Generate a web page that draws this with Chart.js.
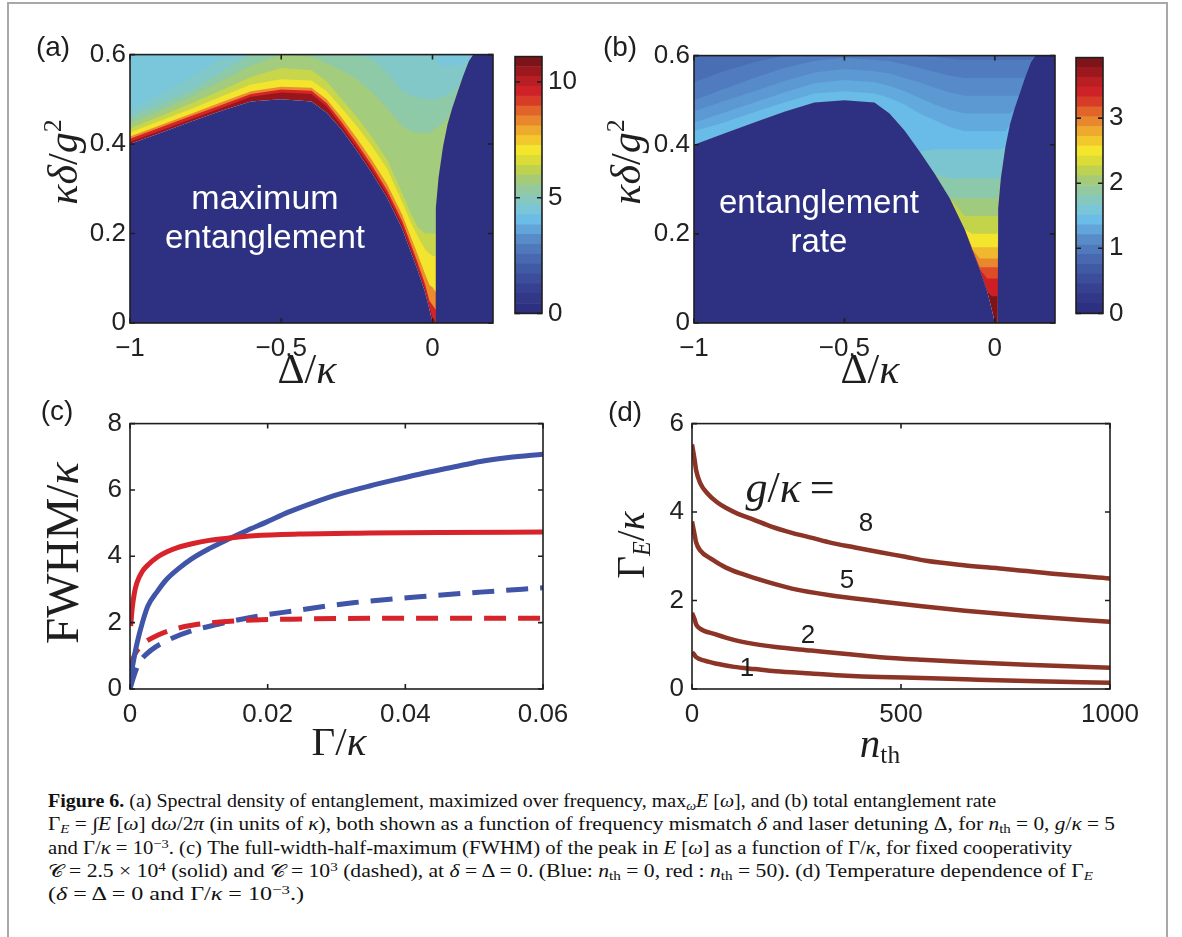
<!DOCTYPE html>
<html>
<head>
<meta charset="utf-8">
<script src="https://cdn.jsdelivr.net/npm/chart.js@4.4.0/dist/chart.umd.min.js"></script>
<style>
  body { margin: 0; background: #fff; width: 1182px; height: 937px; overflow: hidden; position: relative; }
  canvas { position: absolute; }
  .frame { position: absolute; background: #a8a8a8; }
  .t { position: absolute; white-space: nowrap; color: #1e1e1e; line-height: 1; }
  .sans { font-family: "Liberation Sans", Arial, sans-serif; }
  .m { font-family: "Liberation Serif", "DejaVu Serif", serif; }
  .c { transform: translate(-50%, -50%); }
  .r { transform: translate(-50%, -50%) rotate(-90deg); }
  .m sup { font-size: 0.62em; vertical-align: 0.6em; line-height: 0; }
  .m sub { font-size: 0.62em; vertical-align: -0.25em; line-height: 0; }
  .white { color: #fff; }
  .cap { position: absolute; left: 48px; white-space: nowrap; font-family: "Liberation Serif", serif; font-size: 18px; color: #111; transform-origin: 0 0; line-height: 1; }
  .cap sup { font-size: 0.7em; vertical-align: 0.45em; line-height: 0; }
  .cap sub { font-size: 0.7em; vertical-align: -0.2em; line-height: 0; }
</style>
</head>
<body>
<div class="frame" style="left:7px;top:2px;width:1161px;height:2px"></div>
<div class="frame" style="left:7px;top:2px;width:2px;height:935px"></div>
<div class="frame" style="left:1166px;top:2px;width:2px;height:935px"></div>

<canvas id="ca" width="445" height="325" style="left:60px;top:35px"></canvas>
<canvas id="cba" width="78" height="300" style="left:507px;top:35px"></canvas>
<canvas id="cb" width="441" height="324" style="left:624px;top:36px"></canvas>
<canvas id="cbb" width="78" height="299" style="left:1068px;top:36px"></canvas>
<canvas id="cc" width="520" height="326" style="left:60px;top:400px"></canvas>
<canvas id="cd" width="528" height="326" style="left:622px;top:400px"></canvas>

<!-- panel letters -->
<div class="t sans c" style="left:53px;top:47px;font-size:28px">(a)</div>
<div class="t sans c" style="left:620px;top:47px;font-size:28px">(b)</div>
<div class="t sans c" style="left:57px;top:411px;font-size:28px">(c)</div>
<div class="t sans c" style="left:625px;top:412px;font-size:28px">(d)</div>

<!-- labels inside the maps -->
<div class="t sans c white" style="left:265px;top:197px;font-size:34px">maximum</div>
<div class="t sans c white" style="left:265px;top:236px;font-size:33px">entanglement</div>
<div class="t sans c white" style="left:819px;top:201px;font-size:33px">entanglement</div>
<div class="t sans c white" style="left:819px;top:240px;font-size:33px">rate</div>

<!-- axis titles -->
<div class="t m r" style="left:63px;top:162px;font-size:42px"><i>κδ</i>/<i>g</i><sup>2</sup></div>
<div class="t m c" style="left:307px;top:369px;font-size:42px">Δ/<i>κ</i></div>
<div class="t m r" style="left:626px;top:162px;font-size:42px"><i>κδ</i>/<i>g</i><sup>2</sup></div>
<div class="t m c" style="left:870px;top:369px;font-size:42px">Δ/<i>κ</i></div>
<div class="t m r" style="left:62px;top:553px;font-size:47px">FWHM/<i>κ</i></div>
<div class="t m c" style="left:339px;top:741px;font-size:41px">Γ/<i>κ</i></div>
<div class="t m r" style="left:630px;top:545px;font-size:39px">Γ<sub><i>E</i></sub>/<i>κ</i></div>
<div class="t m c" style="left:880px;top:743px;font-size:41px"><i>n</i><sub>th</sub></div>

<!-- curve labels of (d) -->
<div class="t m c" style="left:790px;top:488px;font-size:44px"><i>g</i>/<i>κ</i>&thinsp;=</div>
<div class="t sans c" style="left:866px;top:522px;font-size:26px">8</div>
<div class="t sans c" style="left:847px;top:579px;font-size:26px">5</div>
<div class="t sans c" style="left:808px;top:634px;font-size:26px">2</div>
<div class="t sans c" style="left:747px;top:667px;font-size:26px">1</div>

<!-- caption -->
<div class="cap" data-w="948" style="top:792px"><b>Figure 6.</b> (a) Spectral density of entanglement, maximized over frequency, max<sub><i>ω</i></sub><i>E</i> [<i>ω</i>], and (b) total entanglement rate</div>
<div class="cap" data-w="1067" style="top:815px">Γ<sub><i>E</i></sub> = ∫<i>E</i> [<i>ω</i>] d<i>ω</i>/2<i>π</i> (in units of <i>κ</i>), both shown as a function of frequency mismatch <i>δ</i> and laser detuning Δ, for <i>n</i><sub>th</sub> = 0, <i>g</i>/<i>κ</i> = 5</div>
<div class="cap" data-w="1024" style="top:839px">and Γ/<i>κ</i> = 10<sup>−3</sup>. (c) The full-width-half-maximum (FWHM) of the peak in <i>E</i> [<i>ω</i>] as a function of Γ/<i>κ</i>, for fixed cooperativity</div>
<div class="cap" data-w="1045" style="top:862px">𝒞 = 2.5 × 10<sup>4</sup> (solid) and 𝒞 = 10<sup>3</sup> (dashed), at <i>δ</i> = Δ = 0. (Blue: <i>n</i><sub>th</sub> = 0, red : <i>n</i><sub>th</sub> = 50). (d) Temperature dependence of Γ<sub><i>E</i></sub></div>
<div class="cap" data-w="256" style="top:885px">(<i>δ</i> = Δ = 0 and Γ/<i>κ</i> = 10<sup>−3</sup>.)</div>

<script>
// ---- panels (a) and (b): columns in Δ/κ and the top of the zero (dark) region
const deltaCols = [-1, -0.9, -0.8, -0.7, -0.6, -0.5, -0.4, -0.35, -0.3, -0.25, -0.2, -0.15, -0.1, -0.075, -0.05, -0.025, -0.01, 0, 0.01, 0.011, 0.02, 0.035, 0.05, 0.065, 0.08, 0.1, 0.12, 0.135, 0.2];
const zeroTop = [0.40, 0.425, 0.45, 0.474, 0.495, 0.50, 0.495, 0.47, 0.432, 0.385, 0.335, 0.28, 0.21, 0.165, 0.12, 0.07, 0.03, 0, 0, 0.257, 0.325, 0.395, 0.445, 0.48, 0.51, 0.55, 0.585, 0.6, 0.6];

// (a) lower edge (κδ/g²) of each colour band; null = band starts on the dark region
const aRed    = [.405, .43, .455, .48, .506, .515, .512, .484, .44, .393, .343, .288, .218, .173, .127, .077, .037, .012, .005, null, null, null, null, null, null, null, null, null, null];
const aOrange = [.412, .437, .462, .487, .512, .522, .519, .492, .449, .402, .352, .297, .228, .183, .137, .088, .05, .04, .03, null, null, null, null, null, null, null, null, null, null];
const aYellow = [.417, .442, .467, .493, .518, .528, .526, .5, .459, .413, .364, .31, .242, .198, .155, .11, .085, .08, .07, null, null, null, null, null, null, null, null, null, null];
const aLime   = [.426, .452, .478, .506, .533, .545, .542, .518, .48, .44, .395, .345, .27, .23, .195, .165, .155, .15, .15, null, null, null, null, null, null, null, null, null, null];
const aGreen  = [.435, .462, .49, .52, .55, .57, .565, .54, .5, .46, .415, .365, .29, .25, .215, .2, .2, .2, .2, null, null, null, null, null, null, null, null, null, null];
const aSea    = [.447, .475, .505, .54, .575, .6, .595, .58, .565, .545, .515, .48, .44, .43, .425, .425, .425, .43, .435, .435, .44, .445, .46, null, null, null, null, null, null];
const aTeal   = [.46, .49, .52, .56, .6, .6, .6, .6, .6, .6, .59, .56, .52, .51, .505, .5, .5, .5, .5, .5, .505, .505, .51, .515, .525, null, null, null, null];
const aSky    = [.475, .51, .55, .59, .6, .6, .6, .6, .6, .6, .6, .6, .6, .6, .6, .6, .6, .6, .595, .59, .58, .575, .575, .575, .575, .575, .59, .6, .6];

// (b) lower edge of each colour band
const bRed       = [null, null, null, null, null, null, null, null, null, null, null, null, null, null, null, null, .06, .06, .06, null, null, null, null, null, null, null, null, null, null];
const bRedOrange = [null, null, null, null, null, null, null, null, null, null, null, null, null, null, null, .1, .1, .1, .1, null, null, null, null, null, null, null, null, null, null];
const bOrange    = [null, null, null, null, null, null, null, null, null, null, null, null, null, null, .125, .125, .125, .125, .125, null, null, null, null, null, null, null, null, null, null];
const bAmber     = [null, null, null, null, null, null, null, null, null, null, null, null, null, null, .145, .145, .145, .145, .145, null, null, null, null, null, null, null, null, null, null];
const bYellow    = [null, null, null, null, null, null, null, null, null, null, null, null, null, .17, .17, .17, .17, .17, .17, null, null, null, null, null, null, null, null, null, null];
const bLime      = [null, null, null, null, null, null, null, null, null, null, null, null, null, .2, .2, .2, .2, .2, .2, null, null, null, null, null, null, null, null, null, null];
const bGreen     = [null, null, null, null, null, null, null, null, null, null, null, null, .24, .24, .24, .24, .24, .24, .24, null, null, null, null, null, null, null, null, null, null];
const bSea       = [null, null, null, null, null, null, null, null, null, null, null, null, .28, .28, .28, .28, .28, .28, .28, .28, null, null, null, null, null, null, null, null, null];
const bTeal      = [null, null, null, null, null, null, null, null, null, null, null, .325, .325, .325, .325, .325, .325, .325, .325, .325, null, null, null, null, null, null, null, null, null];
const bLight     = [null, null, null, null, null, null, null, null, null, null, .39, .39, .39, .39, .39, .39, .39, .39, .39, .39, .39, null, null, null, null, null, null, null, null];
const bSky       = [.43, .45, .473, .495, .515, .52, .515, .505, .49, .47, .455, .44, .43, .43, .43, .43, .43, .43, .43, .43, .43, .43, null, null, null, null, null, null, null];
const bBlue1     = [.45, .472, .495, .517, .538, .545, .54, .532, .52, .505, .49, .478, .47, .47, .47, .47, .47, .47, .47, .47, .47, .47, .47, null, null, null, null, null, null];
const bBlue2     = [.475, .498, .52, .543, .562, .57, .565, .56, .55, .54, .528, .517, .51, .51, .51, .51, .51, .51, .51, .51, .51, .51, .51, .51, null, null, null, null, null];
const bBlue3     = [.5, .525, .55, .572, .588, .595, .59, .588, .58, .572, .563, .555, .55, .55, .55, .55, .55, .55, .55, .55, .55, .55, .55, .55, .55, null, null, null, null];
const bBlue4     = [.54, .565, .585, .6, .6, .6, .6, .6, .6, .6, .597, .593, .59, .59, .59, .59, .59, .59, .59, .59, .59, .59, .59, .59, .59, .59, .59, .6, .6];

// colour bars
const cbarMaxA = 11.1;
const cbarMaxB = 3.93;
const cbarTicksA = [0, 5, 10];
const cbarTicksB = [0, 1, 2, 3];

// tick labels
const mapTicksX = [-1, -0.5, 0];
const mapTicksY = [0, 0.2, 0.4, 0.6];
const cTicksX = [0, 0.02, 0.04, 0.06];
const cTicksY = [0, 2, 4, 6, 8];
const dTicksX = [0, 500, 1000];
const dTicksY = [0, 2, 4, 6];

// ---- panel (c): FWHM/κ against Γ/κ
const blueSolidX = [0, 0.0002, 0.0006, 0.001, 0.0018, 0.0026, 0.004, 0.0053, 0.007, 0.009, 0.0115, 0.0144, 0.017, 0.0198, 0.023, 0.0267, 0.0305, 0.0348, 0.039, 0.0428, 0.047, 0.0509, 0.055, 0.06];
const blueSolidY = [0, 0.45, 0.95, 1.36, 2.0, 2.5, 2.95, 3.3, 3.62, 3.93, 4.23, 4.53, 4.78, 5.03, 5.33, 5.62, 5.88, 6.12, 6.33, 6.51, 6.69, 6.86, 6.98, 7.08];
const redSolidX  = [0.0001, 0.0003, 0.0006, 0.001, 0.0018, 0.0026, 0.004, 0.0053, 0.007, 0.009, 0.0115, 0.0144, 0.018, 0.0245, 0.0348, 0.045, 0.06];
const redSolidY  = [1.9, 2.4, 2.85, 3.2, 3.55, 3.74, 3.98, 4.13, 4.27, 4.38, 4.48, 4.55, 4.62, 4.67, 4.7, 4.72, 4.73];
const blueDashX  = [0, 0.0005, 0.0013, 0.003, 0.0054, 0.0089, 0.0128, 0.0173, 0.0236, 0.0324, 0.042, 0.0509, 0.06];
const blueDashY  = [0, 0.35, 0.77, 1.16, 1.46, 1.75, 1.95, 2.15, 2.35, 2.6, 2.78, 2.92, 3.05];
const redDashX   = [0.0001, 0.0005, 0.001, 0.002, 0.004, 0.006, 0.009, 0.013, 0.018, 0.025, 0.035, 0.06];
const redDashY   = [0.6, 0.95, 1.15, 1.38, 1.62, 1.78, 1.92, 2.02, 2.08, 2.11, 2.13, 2.13];

// ---- panel (d): Γ_E/κ against n_th for g/κ = 8, 5, 2, 1
const g8X = [0, 6, 10, 20, 37, 60, 82, 110, 147, 190, 239, 290, 331, 390, 450, 510, 560, 650, 744, 870, 1000];
const g8Y = [5.53, 5.2, 4.94, 4.65, 4.42, 4.22, 4.09, 3.96, 3.83, 3.67, 3.53, 3.41, 3.31, 3.2, 3.09, 2.99, 2.9, 2.8, 2.72, 2.6, 2.5];
const g5X = [0, 6, 10, 20, 46, 80, 120, 180, 239, 330, 450, 550, 653, 800, 1000];
const g5Y = [3.79, 3.5, 3.31, 3.13, 2.94, 2.75, 2.6, 2.42, 2.27, 2.12, 1.98, 1.87, 1.77, 1.65, 1.52];
const g2X = [0, 6, 10, 20, 55, 100, 147, 200, 285, 370, 450, 550, 653, 800, 1000];
const g2Y = [1.72, 1.58, 1.46, 1.36, 1.24, 1.11, 1.02, 0.95, 0.87, 0.79, 0.72, 0.66, 0.61, 0.55, 0.48];
const g1X = [0, 6, 10, 30, 60, 101, 150, 200, 285, 370, 450, 550, 653, 800, 1000];
const g1Y = [0.83, 0.77, 0.72, 0.64, 0.57, 0.5, 0.45, 0.4, 0.35, 0.3, 0.27, 0.25, 0.22, 0.18, 0.14];

// ---- styles
const zeroColour = 'rgb(46,49,130)';
const aColours = ['rgb(150,22,28)', 'rgb(212,36,40)', 'rgb(236,140,45)', 'rgb(243,228,45)', 'rgb(200,214,75)', 'rgb(163,204,125)', 'rgb(142,201,168)', 'rgb(130,200,200)', 'rgb(122,198,218)'];
const bColours = ['rgb(125,20,25)', 'rgb(205,32,38)', 'rgb(222,75,40)', 'rgb(232,135,45)', 'rgb(240,185,45)', 'rgb(243,228,45)', 'rgb(195,212,75)', 'rgb(160,202,125)', 'rgb(140,200,170)', 'rgb(122,197,208)', 'rgb(105,188,232)', 'rgb(98,170,222)', 'rgb(92,153,210)', 'rgb(86,138,200)', 'rgb(80,124,191)', 'rgb(74,110,180)'];
const cmap = ['rgb(45,48,128)', 'rgb(50,55,135)', 'rgb(55,65,145)', 'rgb(60,78,155)', 'rgb(65,90,165)', 'rgb(72,105,175)', 'rgb(80,120,188)', 'rgb(88,140,200)', 'rgb(98,165,218)', 'rgb(108,188,232)', 'rgb(122,197,215)', 'rgb(135,200,190)', 'rgb(148,201,160)', 'rgb(165,203,120)', 'rgb(190,210,80)', 'rgb(220,220,55)', 'rgb(243,230,45)', 'rgb(243,200,45)', 'rgb(238,170,45)', 'rgb(232,135,45)', 'rgb(225,100,42)', 'rgb(215,60,40)', 'rgb(205,35,40)', 'rgb(185,30,35)', 'rgb(155,25,30)', 'rgb(125,20,25)'];
const blue = 'rgb(64,84,168)';
const red = 'rgb(214,36,42)';
const brown = 'rgb(140,52,38)';
const tickFont = { family: '"Liberation Sans", Arial, sans-serif', size: 26 };

const fmt = v => (v < 0 ? '\u2212' : '') + String(Math.abs(v));
const zip = (xs, ys) => xs.map((x, i) => ({ x: x, y: ys[i] }));
const cols = arr => deltaCols.map((x, i) => ({ x: x, y: arr[i] == null ? zeroTop[i] : arr[i] }));

// box round the plot with inward ticks on all four sides (matlab look)
const boxPlugin = {
    id: 'box',
    afterDraw(chart) {
        const ctx = chart.ctx, a = chart.chartArea;
        ctx.save();
        ctx.strokeStyle = '#1e1e1e';
        ctx.lineWidth = 1.6;
        ctx.strokeRect(a.left, a.top, a.right - a.left, a.bottom - a.top);
        ctx.beginPath();
        const x = chart.scales.x, y = chart.scales.y;
        if (x && x.options.display !== false) {
            x.ticks.forEach(t => {
                const p = x.getPixelForValue(t.value);
                ctx.moveTo(p, a.bottom); ctx.lineTo(p, a.bottom - 5);
                ctx.moveTo(p, a.top); ctx.lineTo(p, a.top + 5);
            });
        }
        y.ticks.forEach(t => {
            const p = y.getPixelForValue(t.value);
            ctx.moveTo(a.left, p); ctx.lineTo(a.left + 5, p);
            ctx.moveTo(a.right, p); ctx.lineTo(a.right - 5, p);
        });
        ctx.stroke();
        ctx.restore();
    }
};

function axis(min, max, ticks, size, pad, extra) {
    return Object.assign({
        type: 'linear', min: min, max: max,
        grid: { display: false, drawTicks: false }, border: { display: false },
        afterBuildTicks: s => { s.ticks = ticks.map(v => ({ value: v })); },
        afterFit: s => { if (s.isHorizontal()) s.height = size; else s.width = size; },
        ticks: { font: tickFont, color: '#222', padding: pad, autoSkip: false, maxRotation: 0, callback: v => fmt(v) }
    }, extra || {});
}

const base = {
    responsive: false, animation: false, events: [],
    plugins: { legend: { display: false }, tooltip: { enabled: false } }
};

// heat map as stacked filled contours; dataset 0 is drawn last (dark region on top)
function mapChart(id, edges, colours, padRight) {
    const sets = [{ data: cols(zeroTop), fill: 'start', backgroundColor: zeroColour }];
    for (let k = edges.length - 1; k >= 0; k--) {
        sets.push({ data: cols(edges[k]), fill: 'end', backgroundColor: colours[k] });
    }
    sets.forEach(s => { s.borderColor = 'rgba(0,0,0,0)'; s.borderWidth = 0; s.pointRadius = 0; s.tension = 0; });
    new Chart(document.getElementById(id), {
        type: 'line',
        data: { datasets: sets },
        options: Object.assign({}, base, {
            layout: { padding: { top: 16, right: padRight, left: 0, bottom: 0 } },
            scales: {
                x: axis(-1, 0.2, mapTicksX, 37, 10),
                y: axis(0, 0.6, mapTicksY, 70, 4)
            }
        }),
        plugins: [boxPlugin]
    });
}

function colourBar(id, max, ticks) {
    const n = cmap.length;
    new Chart(document.getElementById(id), {
        type: 'bar',
        data: {
            labels: [''],
            datasets: cmap.map((c, i) => ({ data: [[i * max / n, (i + 1) * max / n]], backgroundColor: c, barPercentage: 1, categoryPercentage: 1, grouped: false, borderWidth: 0 }))
        },
        options: Object.assign({}, base, {
            layout: { padding: { top: 16, left: 8, bottom: 12, right: 0 } },
            scales: {
                x: { display: false },
                y: axis(0, max, ticks, 43, 6, { position: 'right' })
            }
        }),
        plugins: [boxPlugin]
    });
}

function lineChart(id, sets, xr, yr, xt, yt) {
    sets.forEach(s => { s.pointRadius = 0; s.fill = false; s.cubicInterpolationMode = 'monotone'; s.borderCapStyle = 'butt'; });
    new Chart(document.getElementById(id), {
        type: 'line',
        data: { datasets: sets },
        options: Object.assign({}, base, {
            layout: { padding: { top: 20, right: id === 'cc' ? 37 : 40, left: 0, bottom: 0 } },
            scales: {
                x: axis(xr[0], xr[1], xt, 37, 10),
                y: axis(yr[0], yr[1], yt, 70, 8)
            }
        }),
        plugins: [boxPlugin]
    });
}

mapChart('ca', [zeroTop, aRed, aOrange, aYellow, aLime, aGreen, aSea, aTeal, aSky], aColours, 12);
mapChart('cb', [zeroTop, bRed, bRedOrange, bOrange, bAmber, bYellow, bLime, bGreen, bSea, bTeal, bLight, bSky, bBlue1, bBlue2, bBlue3, bBlue4], bColours, 10);
colourBar('cba', cbarMaxA, cbarTicksA);
colourBar('cbb', cbarMaxB, cbarTicksB);

lineChart('cc', [
    { data: zip(redSolidX, redSolidY), borderColor: red, borderWidth: 5 },
    { data: zip(blueSolidX, blueSolidY), borderColor: blue, borderWidth: 5 },
    { data: zip(redDashX, redDashY), borderColor: red, borderWidth: 5, borderDash: [22, 12] },
    { data: zip(blueDashX, blueDashY), borderColor: blue, borderWidth: 5, borderDash: [22, 12] }
], [0, 0.06], [0, 8], cTicksX, cTicksY);

lineChart('cd', [
    { data: zip(g8X, g8Y), borderColor: brown, borderWidth: 4.5 },
    { data: zip(g5X, g5Y), borderColor: brown, borderWidth: 4.5 },
    { data: zip(g2X, g2Y), borderColor: brown, borderWidth: 4.5 },
    { data: zip(g1X, g1Y), borderColor: brown, borderWidth: 4.5 }
], [0, 1000], [0, 6], dTicksX, dTicksY);

// stretch caption lines to the measured line widths of the figure
document.querySelectorAll('.cap').forEach(el => {
    const w = el.getBoundingClientRect().width;
    el.style.transform = 'scaleX(' + (Number(el.dataset.w) / w).toFixed(4) + ')';
});
</script>
</body>
</html>
